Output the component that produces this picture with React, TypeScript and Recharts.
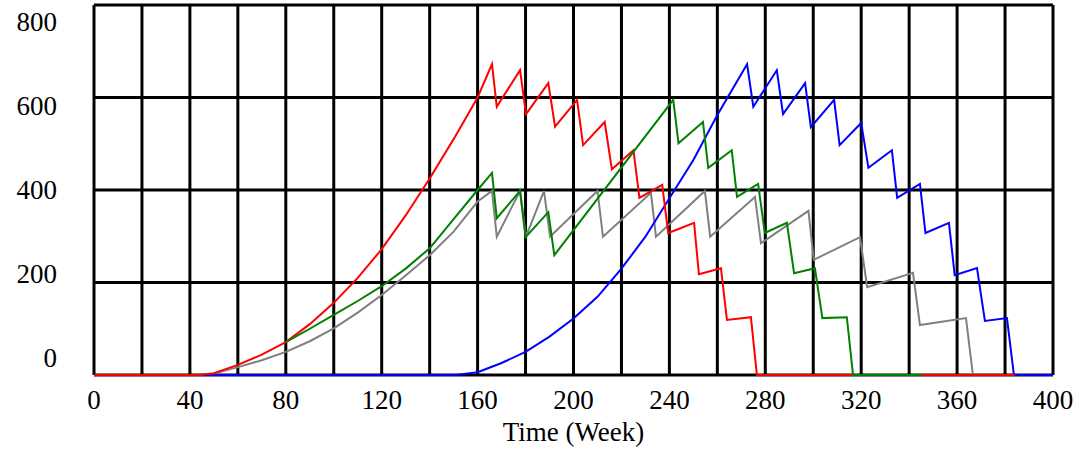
import { LineChart, Line, XAxis, YAxis, CartesianGrid } from "recharts"

const xTicks = [0, 20, 40, 60, 80, 100, 120, 140, 160, 180, 200, 220, 240, 260, 280, 300, 320, 340, 360, 380, 400]
const yTicks = [0, 200, 400, 600, 800]

// weeks / values
const redT = [0, 44, 50, 60, 70, 80, 90, 100, 110, 120, 130, 140, 150, 160, 166, 168, 177.7, 180.2, 189.5, 192.3, 201.5, 204, 213, 216, 225, 227.5, 237, 239.5, 250.3, 252.3, 261.5, 264, 274, 276.5, 384]
const redV = [0, 0, 4, 22, 44, 71, 110, 156, 210, 272, 345, 425, 510, 600, 672, 580, 659, 564, 631, 537, 595, 497, 547, 445, 486, 383, 411, 307, 329, 218, 231, 119, 125, 0, 0]

// green runs under red until it branches off near week 80
const greenT = [80, 90, 100, 110, 120, 130, 140, 150, 160, 166, 168, 177.7, 180, 189.5, 192, 241.6, 243.8, 254, 256.2, 266, 268.2, 277, 279.8, 289, 292, 300.7, 303.8, 314, 316.6, 345]
const greenV = [71, 100, 130, 160, 192, 230, 274, 337, 400, 437, 339, 398, 298, 352, 259, 595, 501, 547, 448, 486, 385, 413, 307, 329, 220, 231, 123, 125, 0, 0]

const grayT = [0, 48, 60, 70, 80, 90, 100, 110, 120, 130, 140, 150, 160, 166, 168, 177.7, 180.2, 187.7, 190.2, 210, 212.3, 232.3, 234.4, 254.8, 257, 275.7, 278.2, 298, 300.2, 319.5, 322.5, 341.6, 344.5, 363.7, 366.6, 370]
const grayV = [0, 0, 17, 32, 50, 73, 101, 135, 173, 215, 259, 310, 375, 398, 299, 398, 299, 398, 299, 398, 299, 394, 299, 398, 299, 385, 285, 355, 249, 298, 190, 221, 108, 123, 0, 0]

const blueT = [45, 151, 160, 170, 180, 190, 200, 210, 220, 230, 240, 250, 260, 272.4, 275, 284.8, 287.4, 296.6, 299, 308.7, 311, 320, 323, 332.8, 335, 344.5, 346.8, 356.6, 359, 368.3, 371.6, 380.8, 383.7, 400]
const blueV = [0, 0, 6, 26, 50, 83, 122, 169, 230, 299, 382, 465, 562, 672, 580, 659, 564, 631, 536, 595, 497, 545, 448, 486, 383, 413, 307, 329, 216, 231, 117, 123, 0, 0]

const zip = (t: number[], v: number[]) => t.map((x, i) => ({ t: x, v: v[i] }))

const red = zip(redT, redV)
const green = zip(greenT, greenV)
const gray = zip(grayT, grayV)
const blue = zip(blueT, blueV)

const FONT = "'Liberation Serif', 'Times New Roman', serif"

function XTick(props: any) {
  const { x, payload } = props
  if (payload.value % 40 !== 0) return null
  return (
    <text x={x} y={409} textAnchor="middle" fontFamily={FONT} fontSize={27} fill="#000">
      {payload.value}
    </text>
  )
}

function YTick(props: any) {
  const { y, payload } = props
  // labels sit a little closer together than the grid lines
  const cy = 190 + (y - 190) * 0.908
  return (
    <text x={57} y={cy + 9} textAnchor="end" fontFamily={FONT} fontSize={27} fill="#000">
      {payload.value}
    </text>
  )
}

function XLabel(props: any) {
  const { viewBox } = props
  return (
    <text x={viewBox.x + viewBox.width / 2} y={441} textAnchor="middle" fontFamily={FONT} fontSize={27} fill="#000">
      Time (Week)
    </text>
  )
}

export default function App() {
  return (
    <div style={{ position: "absolute", left: 0, top: 0, width: 1077, height: 450, background: "#fff" }}>
      <LineChart width={1077} height={450} margin={{ top: 5, right: 24, left: 0, bottom: 0 }}>
        <CartesianGrid stroke="#000" strokeWidth={3} />
        <XAxis
          type="number"
          dataKey="t"
          domain={[0, 400]}
          ticks={xTicks}
          interval={0}
          height={75}
          tickLine={false}
          axisLine={false}
          tick={<XTick />}
          label={<XLabel />}
        />
        <YAxis
          type="number"
          dataKey="v"
          domain={[0, 800]}
          ticks={yTicks}
          interval={0}
          width={94}
          tickLine={false}
          axisLine={false}
          tick={<YTick />}
        />
        <Line data={gray} dataKey="v" type="linear" stroke="#808080" strokeWidth={2} dot={false} isAnimationActive={false} />
        <Line data={blue} dataKey="v" type="linear" stroke="#0000ff" strokeWidth={2} dot={false} isAnimationActive={false} />
        <Line data={red} dataKey="v" type="linear" stroke="#ff0000" strokeWidth={2} dot={false} isAnimationActive={false} />
        <Line data={green} dataKey="v" type="linear" stroke="#008000" strokeWidth={2} dot={false} isAnimationActive={false} />
      </LineChart>
    </div>
  )
}
